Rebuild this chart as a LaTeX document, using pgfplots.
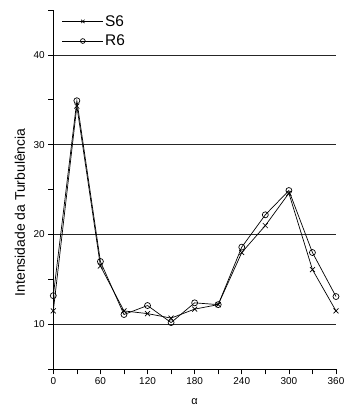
\documentclass[border=0pt]{standalone}
\usepackage{fontspec}
\setmainfont{Liberation Sans}
\usepackage{pgfplots}
\pgfplotsset{compat=1.18}
\begin{document}
\begin{tikzpicture}[x=1bp,y=1bp]
\begin{axis}[
  at={(0,0)}, anchor=south west,
  scale only axis,
  width=282.7bp, height=359.3bp,
  xmin=0, xmax=360, ymin=5, ymax=45,
  axis x line=bottom, axis y line=left,
  axis line style={-, line width=0.9pt},
  xtick={0,60,...,360}, minor xtick={30,90,...,330},
  ytick={10,20,30,40}, minor ytick={5,15,...,45},
  tick align=outside,
  major tick length=5bp, minor tick length=5bp,
  every tick/.style={black, line width=0.7pt},
  ymajorgrids,
  major grid style={black!85, line width=0.7pt},
  tick label style={font=\fontsize{10}{11}\selectfont},
  /pgf/number format/assume math mode=true,
  xlabel={α},
  xlabel style={at={(axis description cs:0.5,-0.09)}, anchor=center, inner sep=0pt, font=\fontsize{11}{12}\selectfont},
  ylabel={Intensidade da Turbulência},
  ylabel style={at={(axis description cs:-0.118,0.437)}, anchor=center, rotate=0, font=\fontsize{14}{16}\selectfont},
  legend style={at={(axis description cs:0.03,0.99)}, anchor=north west, draw=none, fill=none,
    font=\fontsize{15.5}{17}\selectfont, row sep=4.3bp, inner sep=0bp, nodes={inner sep=1.5bp}},
  legend cell align=left,
  legend image code/.code={
    \draw[#1, mark=none] (0bp,0bp) -- (41bp,0bp);
    \draw[#1, only marks, mark size=2.4bp] plot coordinates {(20.5bp,0bp)};
  },
  clip=false,
]
\addplot[black, line width=0.7pt, mark=x, mark size=3.5bp, mark options={line width=0.7pt}] coordinates {
(0,11.5) (30,34.3) (60,16.5) (90,11.5) (120,11.2) (150,10.7) (180,11.7) (210,12.2) (240,18.0) (270,21.0) (300,24.6) (330,16.1) (360,11.5)};
\addlegendentry{S6}
\addplot[black, line width=0.7pt, mark=o, mark size=3bp, mark options={line width=0.7pt, fill=white}] coordinates {
(0,13.2) (30,34.9) (60,17.0) (90,11.1) (120,12.1) (150,10.2) (180,12.4) (210,12.2) (240,18.6) (270,22.2) (300,24.9) (330,18.0) (360,13.1)};
\addlegendentry{R6}
\end{axis}
\pgfresetboundingbox
\path[use as bounding box] (-53.3bp,-36.7bp) rectangle (290.7bp,369.3bp);
\end{tikzpicture}
\end{document}
